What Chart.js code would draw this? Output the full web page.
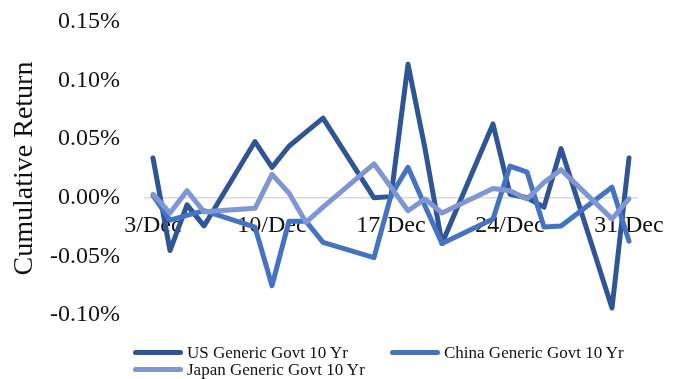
<!DOCTYPE html>
<html>
<head>
<meta charset="utf-8">
<script src="https://cdn.jsdelivr.net/npm/chart.js@4.4.1/dist/chart.umd.min.js"></script>
<style>
  html, body { margin: 0; padding: 0; background: #fff; }
  #wrap { position: relative; width: 682px; height: 379px; }
  #legend {
    position: absolute; left: 133px; top: 344px;
    display: grid; grid-template-columns: 257px auto; grid-auto-rows: 17px;
    font: 17px "Liberation Serif", "Times New Roman", serif; color: #111;
  }
  .item { display: flex; align-items: center; white-space: nowrap; line-height: 17px; }
  .swatch { width: 50px; height: 5px; border-radius: 2.5px; margin-right: 4px; }
</style>
</head>
<body>
<div id="wrap">
  <canvas id="c" width="682" height="379"></canvas>
  <div id="legend"></div>
</div>
<script>
// Trading days in December (day of month)
const days = [3, 4, 5, 6, 9, 10, 11, 12, 13, 16, 17, 18, 19, 20, 23, 24, 25, 26, 27, 30, 31];
// Axis labels on the date axis
const tickDays = [3, 10, 17, 24, 31];
const monthLabel = 'Dec';

// Cumulative return, in percent
const usValues    = [0.034, -0.045, -0.006, -0.024, 0.048, 0.026, 0.044, 0.056, 0.068, 0.000, 0.001,
                     0.114, 0.042, -0.039, 0.063, 0.003, 0.000, -0.008, 0.042, -0.094, 0.034];
const chinaValues = [0.002, -0.019, -0.015, -0.011, -0.025, -0.075, -0.020, -0.020, -0.038, -0.051, 0.002,
                     0.026, -0.007, -0.039, -0.018, 0.027, 0.022, -0.025, -0.024, 0.009, -0.037];
const japanValues = [0.003, -0.013, 0.006, -0.012, -0.009, 0.020, 0.004, -0.021, -0.008, 0.029, 0.009,
                     -0.011, -0.001, -0.013, 0.008, 0.006, -0.001, 0.013, 0.024, -0.018, -0.001];

const seriesNames  = ['US Generic Govt 10 Yr', 'China Generic Govt 10 Yr', 'Japan Generic Govt 10 Yr'];
const seriesValues = [usValues, chinaValues, japanValues];
const seriesColors = ['#2F5597', '#4472C4', '#7F96D4'];

const yMin = -0.10, yMax = 0.15, yStep = 0.05;

const serif = '"Liberation Serif", "Times New Roman", serif';
const textColor = '#111';

const datasets = seriesNames.map((name, i) => ({
  label: name,
  data: days.map((d, k) => ({ x: d, y: seriesValues[i][k] })),
  borderColor: seriesColors[i],
  backgroundColor: seriesColors[i],
  borderWidth: 5,
  borderCapStyle: 'round',
  borderJoinStyle: 'round',
  pointRadius: 0,
  tension: 0,
  order: seriesNames.length - i
}));

// Builds the two-column legend below the plot from the chart's datasets
const htmlLegend = {
  id: 'htmlLegend',
  afterUpdate(chart) {
    const box = document.getElementById('legend');
    box.innerHTML = '';
    chart.data.datasets.forEach(ds => {
      const item = document.createElement('div');
      item.className = 'item';
      const sw = document.createElement('span');
      sw.className = 'swatch';
      sw.style.background = ds.borderColor;
      const tx = document.createElement('span');
      tx.textContent = ds.label;
      item.appendChild(sw);
      item.appendChild(tx);
      box.appendChild(item);
    });
  }
};

new Chart(document.getElementById('c'), {
  type: 'line',
  data: { datasets },
  plugins: [htmlLegend],
  options: {
    responsive: false,
    devicePixelRatio: 1,
    animation: false,
    layout: { padding: { left: 0, right: 44.5, top: 22, bottom: 64 } },
    plugins: { legend: { display: false }, tooltip: { enabled: false } },
    scales: {
      x: {
        type: 'linear',
        position: { y: 0 },
        min: tickDays[0] - 0.5,
        max: tickDays[tickDays.length - 1] + 0.5,
        afterBuildTicks(scale) { scale.ticks = tickDays.map(v => ({ value: v })); },
        afterFit(scale) { scale.height = 0; },
        grid: { display: true, drawOnChartArea: false, drawTicks: false },
        border: { display: true, color: '#D9D9D9', width: 1.5 },
        ticks: {
          autoSkip: false,
          maxRotation: 0,
          padding: 13.5,
          color: textColor,
          font: { family: serif, size: 24 },
          callback: v => v + '/' + monthLabel
        }
      },
      y: {
        min: yMin,
        max: yMax,
        afterFit(scale) {
          scale.width = 144.5;
          scale.paddingTop = 0;
          scale.paddingBottom = 0;
        },
        grid: { display: false, drawTicks: false },
        border: { display: false },
        ticks: {
          stepSize: yStep,
          padding: 24.5,
          color: textColor,
          font: { family: serif, size: 24 },
          callback: v => (Math.abs(v) < 1e-9 ? 0 : v).toFixed(2) + '%'
        },
        title: {
          display: true,
          text: 'Cumulative Return',
          color: textColor,
          font: { family: serif, size: 28 },
          padding: { top: 8, bottom: 0 }
        }
      }
    }
  }
});
</script>
</body>
</html>
